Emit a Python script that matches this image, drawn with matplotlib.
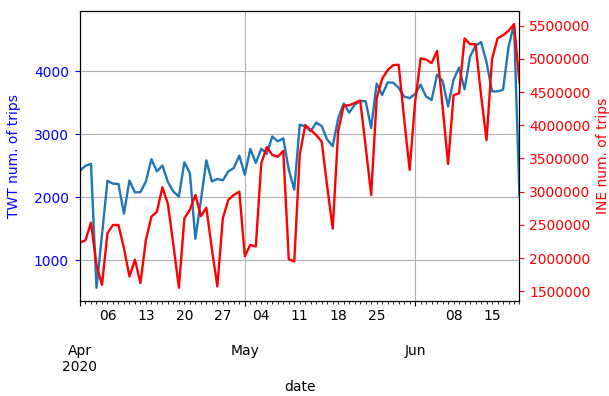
import pandas as pd
import matplotlib
matplotlib.use("Agg")
import matplotlib.pyplot as plt
import matplotlib.dates as mdates
from matplotlib.ticker import FixedLocator, FuncFormatter

# Daily trip counts, 2020-04-01 .. 2020-06-20
start_date = "2020-04-01"
end_date = "2020-06-20"

twt_trips = [
    2420, 2500, 2530, 560, 1400, 2260, 2215, 2210, 1740, 2265,
    2077, 2080, 2250, 2605, 2410, 2505, 2240, 2090, 2010, 2555,
    2385, 1340, 1950, 2585, 2250, 2290, 2267, 2410, 2464, 2660,
    2358, 2770, 2545, 2770, 2690, 2965, 2887, 2935, 2440, 2120,
    3153, 3126, 3050, 3185, 3130, 2914, 2810, 3255, 3490, 3345,
    3470, 3530, 3525, 3100, 3805, 3625, 3825, 3820, 3740, 3600,
    3575, 3640, 3790, 3600, 3545, 3948, 3850, 3444, 3868, 4060,
    3715, 4235, 4410, 4465, 4145, 3682, 3682, 3709, 4385, 4750,
    2000,
]

ine_trips = [
    2236000, 2270000, 2536000, 1900000, 1601000, 2377000, 2500000, 2500000, 2150000, 1725000,
    1980000, 1626000, 2276000, 2626000, 2700000, 3068000, 2815000, 2200000, 1555000, 2602000,
    2727000, 2952000, 2632000, 2760000, 2140000, 1576000, 2602000, 2877000, 2952000, 3002000,
    2030000, 2201000, 2176000, 3428000, 3672000, 3553000, 3527000, 3615000, 1985000, 1951000,
    3560000, 4003000, 3928000, 3853000, 3752000, 3077000, 2445000, 3915000, 4295000, 4300000,
    4335000, 4372000, 3677000, 2952000, 4400000, 4700000, 4829000, 4904000, 4910000, 4100000,
    3327000, 4350000, 5004000, 4989000, 4935000, 5119000, 4280000, 3417000, 4453000, 4479000,
    5305000, 5219000, 5219000, 4453000, 3778000, 4995000, 5305000, 5354000, 5419000, 5520000,
    4640000,
]

ine_ticks = [1500000, 2000000, 2500000, 3000000, 3500000, 4000000, 4500000, 5000000, 5500000]

dates = pd.date_range(start_date, end_date, freq="D")
x = mdates.date2num(dates.to_pydatetime())

fig = plt.figure(figsize=(6.09, 3.96), dpi=100)
ax = fig.add_axes([80 / 609, 1 - 301 / 396, (519.5 - 80) / 609, (301 - 11) / 396])

ax.plot(x, twt_trips, color="#1f77b4", lw=1.7)
ax2 = ax.twinx()
ax2.plot(x, ine_trips, color="red", lw=1.7)

ax.set_xlim(x[0], x[-1])

# Month starts as major ticks (labelled two lines lower), every day as a minor tick
month_mask = dates.day == 1
month_nums = list(x[month_mask])
first_month = month_nums[0]


def major_fmt(val, pos):
    d = mdates.num2date(val)
    if abs(val - first_month) < 1e-6:
        return d.strftime("%b\n%Y")
    return d.strftime("%b")


def minor_fmt(val, pos):
    d = mdates.num2date(val)
    if d.weekday() == 0 and d.day != 1:
        return d.strftime("%d")
    return ""


ax.xaxis.set_major_locator(FixedLocator(month_nums))
ax.xaxis.set_minor_locator(FixedLocator(list(x)))
ax.xaxis.set_major_formatter(FuncFormatter(major_fmt))
ax.xaxis.set_minor_formatter(FuncFormatter(minor_fmt))
ax.tick_params(axis="x", which="major", pad=27.5)
ax.set_xlabel("date")

ax.grid(True, which="major")

ax.set_ylabel("TWT num. of trips", color="blue", labelpad=9)
ax.tick_params(axis="y", colors="blue", pad=4.5)

ax2.set_yticks(ine_ticks)
ax2.yaxis.set_major_formatter(FuncFormatter(lambda v, p: f"{int(round(v))}"))
ax2.set_ylabel("INE num. of trips", color="red")
ax2.tick_params(axis="y", colors="red")

fig.savefig("out.png", dpi=100)
